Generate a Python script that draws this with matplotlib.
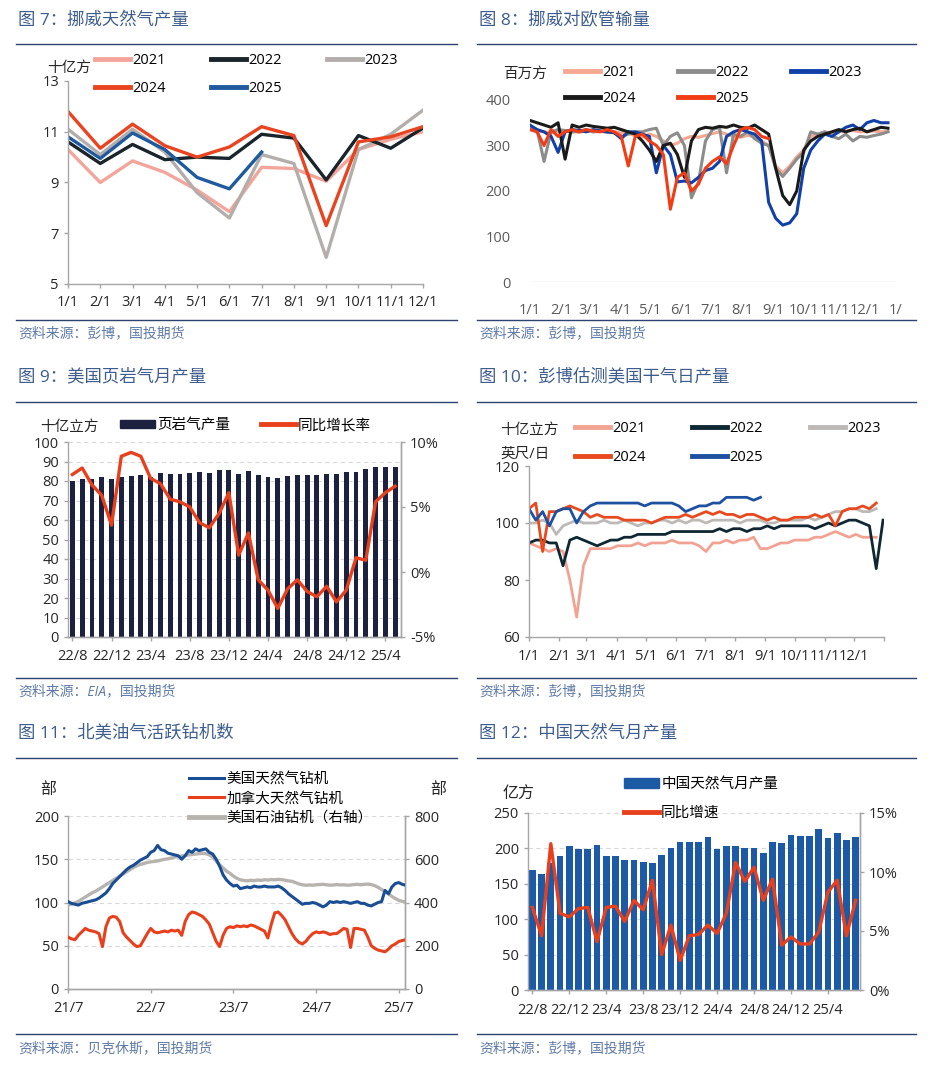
import numpy as np
import matplotlib.pyplot as plt
from matplotlib.lines import Line2D
from matplotlib.patches import Patch

plt.rcParams['font.family'] = ['Open Sans', 'Noto Sans CJK SC', 'DejaVu Sans']

# ---------------- data ----------------
# fig 7: Norway gas production, monthly (bcm)
months12 = ['1/1', '2/1', '3/1', '4/1', '5/1', '6/1', '7/1', '8/1', '9/1', '10/1', '11/1', '12/1']
nor_2021 = [10.3, 9.0, 9.85, 9.4, 8.7, 7.85, 9.6, 9.55, 9.05, 10.3, 10.7, 11.0]
nor_2022 = [10.6, 9.75, 10.5, 9.9, 10.0, 9.95, 10.9, 10.75, 9.1, 10.85, 10.35, 11.15]
nor_2023 = [11.1, 10.1, 11.1, 10.2, 8.6, 7.6, 10.1, 9.75, 6.05, 10.3, 10.9, 11.85]
nor_2024 = [11.8, 10.35, 11.3, 10.45, 10.0, 10.4, 11.2, 10.85, 7.3, 10.6, 10.8, 11.2]
nor_2025 = [10.8, 9.95, 10.95, 10.3, 9.2, 8.75, 10.2]

# fig 8: Norway pipeline flows to Europe, weekly (mcm/d)
pipe_2021 = [335, 332, 330, 328, 331, 333, 330, 329, 332, 330,
             331, 329, 330, 328, 326, 322, 318, 325, 320, 310,
             300, 305, 315, 320, 318, 322, 326, 330, 325, 320,
             318, 322, 320, 310, 300, 255, 240, 255, 275, 290,
             320, 325, 330, 328, 330, 332, 333, 330, 331, 332,
             330, 331]
pipe_2022 = [340, 335, 265, 330, 335, 333, 330, 332, 335, 330,
             332, 330, 328, 320, 325, 330, 330, 335, 338, 300,
             320, 328, 300, 185, 220, 310, 335, 340, 240, 325,
             320, 330, 315, 305, 300, 250, 232, 250, 270, 285,
             330, 325, 330, 320, 315, 325, 310, 320, 318, 322,
             325, 330]
pipe_2023 = [345, 335, 330, 320, 285, 330, 335, 333, 330, 335,
             332, 330, 328, 315, 330, 330, 325, 320, 240, 300,
             280, 220, 222, 218, 230, 245, 250, 265, 320, 330,
             335, 330, 325, 310, 175, 140, 125, 130, 150, 250,
             290, 310, 325, 320, 330, 340, 345, 335, 350, 355,
             350, 350]
pipe_2024 = [355, 350, 345, 340, 350, 270, 345, 340, 345, 342,
             340, 338, 340, 335, 330, 325, 310, 290, 265, 300,
             305, 280, 230, 310, 335, 340, 338, 342, 340, 345,
             340, 338, 345, 335, 325, 250, 190, 170, 200, 290,
             310, 320, 325, 330, 335, 330, 335, 338, 330, 335,
             340, 338]
pipe_2025 = [335, 330, 300, 335, 320, 330, 335, 330, 335, 332,
             330, 335, 330, 320, 255, 320, 325, 310, 300, 280,
             160, 230, 240, 200, 215, 250, 265, 275, 260, 300,
             335, 340, 335, 320, 315]

# fig 9: US shale gas monthly output and yoy
shale_labels = ['22/8', '22/12', '23/4', '23/8', '23/12', '24/4', '24/8', '24/12', '25/4']
shale_prod = [80, 81, 81, 82, 81, 82, 82.5, 83, 82, 84,
              83.5, 83.5, 84, 84.5, 84, 85.5, 85.5, 83.5, 85, 83,
              82, 81.5, 82.5, 83, 83, 83, 83.5, 83.5, 84.5, 84.5,
              86, 87, 87, 87]
shale_yoy = [7.5, 8.0, 6.7, 5.9, 3.6, 8.9, 9.2, 8.9, 7.2, 6.8,
             5.6, 5.4, 5.0, 3.8, 3.4, 4.5, 6.1, 1.3, 3.0, -0.6,
             -1.4, -2.8, -1.3, -0.6, -1.5, -1.9, -1.1, -2.3, -1.4, 1.1,
             0.9, 5.4, 6.1, 6.6]

# fig 10: Bloomberg US dry gas output, weekly (bcf/d)
dry_2021 = [93, 92, 91, 90, 91, 90, 80, 67, 85, 91,
            91, 91, 91, 92, 92, 92, 93, 92, 93, 93,
            93, 94, 93, 93, 93, 92, 90, 93, 93, 94,
            93, 94, 94, 95, 91, 91, 92, 93, 93, 94,
            94, 94, 95, 95, 96, 97, 96, 95, 96, 95,
            95, 95]
dry_2022 = [93, 94, 94, 93, 93, 85, 94, 95, 94, 93,
            92, 93, 94, 94, 95, 95, 96, 96, 96, 96,
            96, 97, 97, 97, 97, 97, 97, 97, 98, 97,
            98, 98, 97, 98, 98, 99, 98, 99, 99, 99,
            99, 99, 98, 99, 100, 99, 100, 101, 101, 100,
            99, 84, 101]
dry_2023 = [100, 100, 101, 100, 96, 99, 100, 101, 100, 100,
            100, 101, 100, 100, 101, 100, 99, 100, 100, 101,
            101, 100, 101, 100, 101, 101, 100, 101, 101, 101,
            101, 100, 101, 101, 101, 100, 100, 101, 101, 101,
            101, 102, 101, 102, 103, 104, 104, 105, 105, 104,
            104, 105]
dry_2024 = [105, 107, 90, 104, 104, 105, 106, 105, 104, 102,
            103, 102, 102, 102, 101, 101, 101, 101, 100, 101,
            102, 102, 102, 103, 102, 103, 104, 103, 104, 103,
            103, 102, 103, 103, 102, 101, 102, 101, 101, 102,
            102, 102, 103, 102, 103, 99, 104, 105, 105, 106,
            105, 107]
dry_2025 = [105, 101, 104, 99, 104, 105, 105, 100, 104, 106,
            107, 107, 107, 107, 107, 107, 107, 106, 107, 107,
            107, 107, 106, 104, 105, 106, 106, 107, 107, 109,
            109, 109, 109, 108, 109]

# fig 11: rig counts, semi-monthly from Jul 2021
rig_ticks = ['21/7', '22/7', '23/7', '24/7', '25/7']
us_gas_rigs = [101, 99, 98, 97, 99, 100, 101, 102, 103, 105,
               108, 111, 116, 122, 126, 130, 134, 138, 141, 143,
               146, 149, 151, 153, 158, 160, 166, 161, 160, 157,
               156, 155, 154, 150, 154, 160, 158, 162, 160, 161,
               162, 158, 156, 150, 142, 132, 126, 122, 119, 120,
               116, 117, 118, 117, 119, 118, 118, 119, 118, 118,
               118, 119, 117, 114, 110, 107, 104, 101, 98, 99,
               99, 100, 99, 97, 95, 97, 101, 100, 101, 100,
               101, 100, 99, 100, 101, 99, 99, 97, 96, 98,
               100, 101, 114, 110, 118, 122, 123, 121, 120]
ca_gas_rigs = [60, 58, 57, 62, 66, 70, 68, 67, 66, 64,
               49, 72, 82, 84, 83, 78, 65, 60, 56, 52,
               49, 50, 57, 64, 70, 66, 65, 66, 67, 66,
               68, 67, 68, 62, 78, 86, 89, 88, 86, 84,
               80, 75, 65, 55, 49, 62, 70, 72, 71, 73,
               72, 73, 72, 74, 73, 71, 69, 67, 59, 75,
               88, 89, 85, 80, 72, 64, 58, 54, 52, 55,
               60, 64, 66, 65, 66, 65, 63, 64, 64, 67,
               70, 69, 48, 70, 70, 69, 68, 60, 50, 47,
               45, 44, 43, 46, 50, 52, 55, 56, 57]
us_oil_rigs = [388, 392, 398, 405, 415, 425, 435, 445, 452, 462,
               472, 482, 492, 502, 512, 522, 532, 542, 552, 562,
               570, 576, 580, 585, 588, 590, 592, 596, 600, 602,
               606, 610, 612, 615, 618, 620, 622, 624, 626, 627,
               626, 620, 610, 592, 575, 560, 545, 535, 522, 512,
               505, 502, 500, 503, 501, 504, 502, 505, 504, 506,
               505, 507, 506, 503, 500, 498, 492, 486, 482, 480,
               481, 480, 482, 483, 484, 482, 480, 481, 483, 481,
               482, 480, 481, 483, 484, 482, 484, 485, 483, 478,
               470, 460, 452, 440, 428, 418, 410, 405, 403]

# fig 12: China gas monthly output and yoy
cn_labels = ['22/8', '22/12', '23/4', '23/8', '23/12', '24/4', '24/8', '24/12', '25/4']
cn_prod = [170, 164, 180, 189, 204, 199, 199, 205, 189, 189,
           183, 184, 181, 180, 191, 200, 209, 209, 209, 216,
           199, 203, 203, 201, 201, 194, 209, 208, 219, 218,
           218, 227, 215, 222, 212, 216]
cn_yoy = [7.0, 4.6, 12.4, 6.5, 6.2, 6.9, 7.0, 4.1, 7.0, 7.1,
          5.8, 7.6, 6.8, 9.3, 3.0, 5.5, 2.5, 4.6, 4.7, 5.5,
          4.8, 6.5, 10.8, 9.2, 10.4, 7.6, 9.4, 3.8, 4.5, 3.9,
          3.9, 4.9, 8.3, 9.3, 4.6, 7.6]

# ---------------- layout ----------------
W, H = 935, 1071
fig = plt.figure(figsize=(W / 100, H / 100), dpi=100)


def fx(x):
    return x / W


def fy(y):
    return 1 - y / H


def box(x0, y0, x1, y1):
    return fig.add_axes([fx(x0), fy(y1), (x1 - x0) / W, (y1 - y0) / H])


TITLE_C = '#3d5d8e'
RULE_C = '#2c4270'
SRC_C = '#5f7aa6'
AX_C = '#a6a6a6'
TXT_C = '#262626'
FS = 10.5

frames = [
    (16, 457, 20, 44, 320, 334, '图 7：挪威天然气产量', '资料来源：彭博，国投期货'),
    (477, 916, 20, 44, 320, 334, '图 8：挪威对欧管输量', '资料来源：彭博，国投期货'),
    (16, 457, 377, 402, 678, 692, '图 9：美国页岩气月产量', '资料来源：EIA，国投期货'),
    (477, 916, 377, 402, 678, 692, '图 10：彭博估测美国干气日产量', '资料来源：彭博，国投期货'),
    (16, 457, 733, 758, 1034, 1049, '图 11：北美油气活跃钻机数', '资料来源：贝克休斯，国投期货'),
    (477, 916, 733, 758, 1034, 1049, '图 12：中国天然气月产量', '资料来源：彭博，国投期货'),
]
for x0, x1, yt, yl, yf, ys, t, s in frames:
    fig.text(fx(x0 + 2), fy(yt), t, fontsize=12.5, color=TITLE_C, va='center', ha='left')
    fig.add_artist(Line2D([fx(x0), fx(x1)], [fy(yl), fy(yl)], color=RULE_C, lw=1.0))
    fig.add_artist(Line2D([fx(x0), fx(x1)], [fy(yf), fy(yf)], color=RULE_C, lw=1.0))
    fig.text(fx(x0 + 2), fy(ys), s, fontsize=10, color=SRC_C, va='center', ha='left',
             style='italic')


def style_axes(ax, left=True, right=False, bottom=True, color=AX_C):
    ax.spines['top'].set_visible(False)
    ax.spines['left'].set_visible(left)
    ax.spines['right'].set_visible(right)
    ax.spines['bottom'].set_visible(bottom)
    for s in ax.spines.values():
        s.set_color(color)
        s.set_linewidth(1.0)
    ax.tick_params(colors=color, labelcolor=TXT_C, labelsize=FS, length=3, width=1)
    ax.set_facecolor('none')


def year_legend(ax, handles, labels, x, y, colsp=3.0, lsp=0.85):
    # legend fills columns first: reorder so the rows read 2021 2022 2023 / 2024 2025
    order = [0, 3, 1, 4, 2]
    h = [handles[i] for i in order]
    l = [labels[i] for i in order]
    ax.legend(h, l, ncol=3, loc='upper left', bbox_to_anchor=(fx(x), fy(y)),
              bbox_transform=fig.transFigure, frameon=False, fontsize=FS,
              handlelength=2.4, handletextpad=0.15, columnspacing=colsp,
              labelspacing=lsp, borderpad=0, borderaxespad=0)


years = ['2021', '2022', '2023', '2024', '2025']

# ---- fig 7 ----
ax = box(68, 81, 423, 284)
style_axes(ax)
c7 = {'2021': '#f4a59b', '2022': '#19242b', '2023': '#b3aeab', '2024': '#e8441f', '2025': '#1f5a9e'}
series7 = {'2021': nor_2021, '2022': nor_2022, '2023': nor_2023, '2024': nor_2024, '2025': nor_2025}
for yr in ['2021', '2023', '2022', '2025', '2024']:
    v = series7[yr]
    ax.plot(np.arange(len(v)), v, color=c7[yr], lw=2.4)
ax.set_xlim(0, 11)
ax.set_ylim(5, 13)
ax.set_yticks([5, 7, 9, 11, 13])
ax.set_xticks(np.arange(12))
ax.set_xticklabels(months12)
ax.tick_params(axis='x', pad=5)
handles = [Line2D([], [], color=c7[y], lw=3.5) for y in years]
year_legend(ax, handles, years, 95, 53, colsp=3.1, lsp=0.9)
fig.text(fx(47), fy(68), '十亿方', fontsize=FS, color=TXT_C, va='center', ha='left')

# ---- fig 8 ----
ax = box(530, 100, 896, 282)
style_axes(ax, left=False, bottom=False)
c8 = {'2021': '#f6a892', '2022': '#8c8c8c', '2023': '#1140a8', '2024': '#1a1a1a', '2025': '#f23c14'}
series8 = {'2021': pipe_2021, '2022': pipe_2022, '2023': pipe_2023, '2024': pipe_2024, '2025': pipe_2025}
for yr in years:
    v = series8[yr]
    ax.plot(np.arange(len(v)) * 7, v, color=c8[yr], lw=2.2)
ax.axhline(0, color='#dcdcdc', lw=1.0)
ax.set_xlim(0, 365)
ax.set_ylim(0, 400)
ax.set_yticks([0, 100, 200, 300, 400])
month_start = [0, 31, 59, 90, 120, 151, 181, 212, 243, 273, 304, 334]
ax.set_xticks(month_start + [365])
ax.set_xticklabels(months12 + ['1/'])
ax.tick_params(length=0, labelcolor='#5a5a5a')
ax.tick_params(axis='x', pad=15)
ax.tick_params(axis='y', pad=14)
handles = [Line2D([], [], color=c8[y], lw=3.5) for y in years]
year_legend(ax, handles, years, 565, 65, colsp=2.9, lsp=0.75)
fig.text(fx(503), fy(74), '百万方', fontsize=FS, color=TXT_C, va='center', ha='left')

# ---- fig 9 ----
ax = box(68, 442, 401, 637)
style_axes(ax, right=True)
xi = np.arange(len(shale_prod))
ax.bar(xi, shale_prod, width=0.5, color='#1d2140', zorder=2)
ax.set_xlim(-0.45, len(shale_prod) - 0.4)
ax.set_ylim(0, 100)
ax.set_yticks(np.arange(0, 101, 10))
ax.yaxis.grid(True, color='#d9d9d9', ls=(0, (4, 3)), lw=0.8, zorder=0)
ax.set_xticks(xi[::4])
ax.set_xticklabels(shale_labels)
ax.tick_params(axis='x', pad=6)
ax2 = ax.twinx()
style_axes(ax2, left=False, right=True)
ax2.plot(xi, shale_yoy, color='#e8401c', lw=2.4, zorder=3)
ax2.set_ylim(-5, 10)
ax2.set_yticks([-5, 0, 5, 10])
ax2.set_yticklabels(['-5%', '0%', '5%', '10%'])
h9 = [Patch(color='#1d2140'), Line2D([], [], color='#e8401c', lw=3.5)]
ax2.legend(h9, ['页岩气产量', '同比增长率'], ncol=2, loc='upper left',
           bbox_to_anchor=(fx(120), fy(418)), bbox_transform=fig.transFigure, frameon=False,
           fontsize=FS, handlelength=2.4, handleheight=0.5, handletextpad=0.15,
           columnspacing=2.1, borderpad=0, borderaxespad=0)
fig.text(fx(40), fy(427), '十亿立方', fontsize=FS, color=TXT_C, va='center', ha='left')

# ---- fig 10 ----
ax = box(529, 466, 884, 637)
style_axes(ax)
c10 = {'2021': '#f2a293', '2022': '#0f2732', '2023': '#bdb9b6', '2024': '#e8491e', '2025': '#1e50a0'}
series10 = {'2021': dry_2021, '2022': dry_2022, '2023': dry_2023, '2024': dry_2024, '2025': dry_2025}
for yr in years:
    v = series10[yr]
    ax.plot(np.arange(len(v)) * 7, v, color=c10[yr], lw=2.0)
ax.set_xlim(0, 365)
ax.set_ylim(60, 120)
ax.set_yticks([60, 80, 100, 120])
ax.set_xticks(month_start + [365])
ax.set_xticklabels(months12 + [''])
ax.tick_params(axis='x', pad=6)
handles = [Line2D([], [], color=c10[y], lw=3.5) for y in years]
year_legend(ax, handles, years, 575, 421, colsp=3.2, lsp=0.95)
fig.text(fx(500), fy(430), '十亿立方', fontsize=FS, color=TXT_C, va='center', ha='left')
fig.text(fx(500), fy(454), '英尺/日', fontsize=FS, color=TXT_C, va='center', ha='left')

# ---- fig 11 ----
ax = box(68, 816, 405, 989)
style_axes(ax, right=True)
xr = np.arange(len(us_gas_rigs)) * 0.5
ax.set_xlim(0, 48.9)
ax.set_ylim(0, 200)
ax.set_yticks([0, 50, 100, 150, 200])
ax.yaxis.grid(True, color='#d9d9d9', ls=(0, (4, 3)), lw=0.8)
ax.set_xticks([0, 12, 24, 36, 48])
ax.set_xticklabels(rig_ticks)
ax.tick_params(axis='x', pad=6)
ax2 = ax.twinx()
style_axes(ax2, left=False, right=True)
ax2.set_ylim(0, 800)
ax2.set_yticks([0, 200, 400, 600, 800])
ax2.plot(xr, us_oil_rigs, color='#b7b4b0', lw=2.4, zorder=2)
ax2.set_zorder(1)
ax3 = ax.twinx()
ax3.set_ylim(0, 200)
ax3.axis('off')
ax3.set_zorder(2)
l_us, = ax3.plot(xr, us_gas_rigs, color='#1a4e94', lw=2.2)
l_ca, = ax3.plot(xr, ca_gas_rigs, color='#e8401c', lw=2.2)
ax3.legend([l_us, l_ca, Line2D([], [], color='#b7b4b0', lw=3.5)],
           ['美国天然气钻机', '加拿大天然气钻机', '美国石油钻机（右轴）'],
           loc='upper left', bbox_to_anchor=(fx(189), fy(772)), bbox_transform=fig.transFigure,
           frameon=False, fontsize=FS, handlelength=2.4, handletextpad=0.15,
           labelspacing=0.3, borderpad=0, borderaxespad=0)
fig.text(fx(40), fy(790), '部', fontsize=FS + 1, color=TXT_C, va='center', ha='left')
fig.text(fx(430), fy(790), '部', fontsize=FS + 1, color=TXT_C, va='center', ha='left')

# ---- fig 12 ----
ax = box(528, 813, 860, 990)
style_axes(ax, right=True)
xc = np.arange(len(cn_prod))
ax.bar(xc, cn_prod, width=0.72, color='#1d5aa6', zorder=2)
ax.set_xlim(-0.47, len(cn_prod) - 0.53)
ax.set_ylim(0, 250)
ax.set_yticks([0, 50, 100, 150, 200, 250])
ax.yaxis.grid(True, color='#d9d9d9', ls=(0, (4, 3)), lw=0.8, zorder=0)
ax.set_xticks(xc[::4])
ax.set_xticklabels(cn_labels)
ax.tick_params(axis='x', pad=6)
ax2 = ax.twinx()
style_axes(ax2, left=False, right=True)
ax2.plot(xc, cn_yoy, color='#e8401c', lw=2.4)
ax2.set_ylim(0, 15)
ax2.set_yticks([0, 5, 10, 15])
ax2.set_yticklabels(['0%', '5%', '10%', '15%'])
h12 = [Patch(color='#1d5aa6'), Line2D([], [], color='#e8401c', lw=3.5)]
ax2.legend(h12, ['中国天然气月产量', '同比增速'], loc='upper left',
           bbox_to_anchor=(fx(624), fy(777)), bbox_transform=fig.transFigure, frameon=False,
           fontsize=FS, handlelength=2.4, handleheight=0.7, handletextpad=0.15,
           labelspacing=0.95, borderpad=0, borderaxespad=0)
fig.text(fx(503), fy(795), '亿方', fontsize=FS + 1, color=TXT_C, va='center', ha='left')

fig.savefig('out.png', dpi=100, facecolor='white')
